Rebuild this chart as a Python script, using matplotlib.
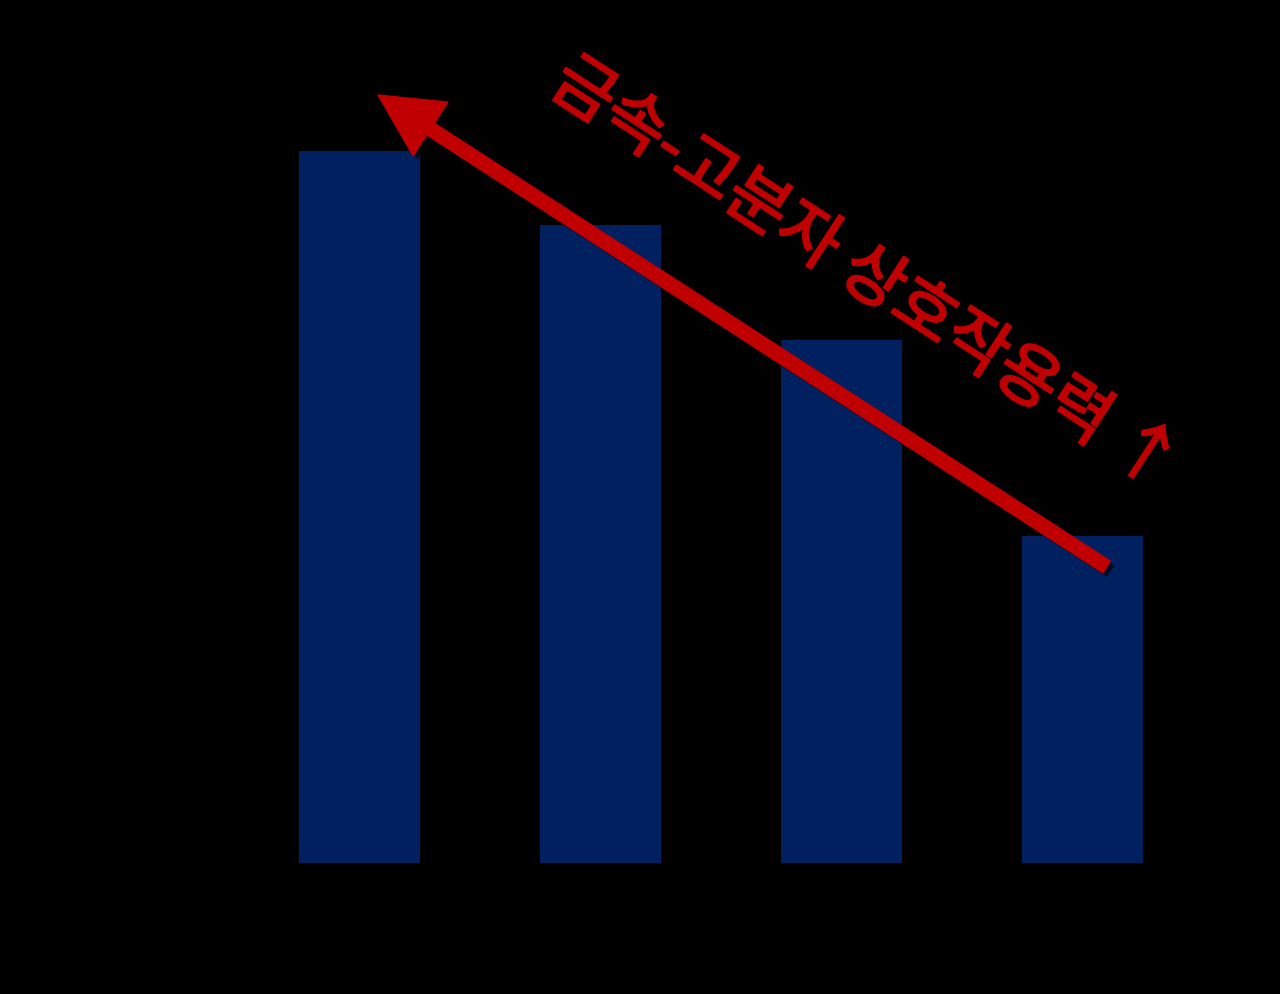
import matplotlib
matplotlib.use("Agg")
import matplotlib.pyplot as plt
import matplotlib.patheffects as pe

# ---- data (arbitrary units) ----
categories = ["A", "B", "C", "D"]
values = [3.56, 3.19, 2.615, 1.635]
label = "금속-고분자 상호작용력 ↑"

bar_color = "#002060"
red = "#C00000"

plt.rcParams['font.family'] = ['Noto Sans CJK KR', 'DejaVu Sans']

fig = plt.figure(figsize=(12.8, 9.95), dpi=100, facecolor="black")
ax = fig.add_axes([239/1280, 131/995, 964/1280, 800/995])
ax.set_facecolor("black")

x = list(range(len(categories)))
ax.bar(x, values, width=0.5, color=bar_color, zorder=2)
ax.set_xlim(-0.5, 3.5)
ax.set_ylim(0, 4)
for s in ax.spines.values():
    s.set_visible(False)
ax.set_xticks([])
ax.set_yticks([])

# arrow from the last bar up towards the first bar
ax.annotate("", xy=(x[0] + 0.077, values[0] + 0.28),
            xytext=(x[3] + 0.10, values[3] - 0.155),
            arrowprops=dict(arrowstyle="simple,head_length=4.5,head_width=4.6,tail_width=1.0",
                            mutation_scale=10, color=red, shrinkA=0, shrinkB=0,
                            path_effects=[pe.SimplePatchShadow(offset=(3, -3), shadow_rgbFace="black", alpha=0.6),
                                          pe.Normal()]),
            zorder=5)

ax.text(2.097, 2.94, label, color=red, fontsize=48, rotation=-33,
        rotation_mode="anchor", ha="center", va="center", zorder=6,
        path_effects=[pe.withStroke(linewidth=1.6, foreground=red)])

fig.savefig("out.png", dpi=100, facecolor="black")
